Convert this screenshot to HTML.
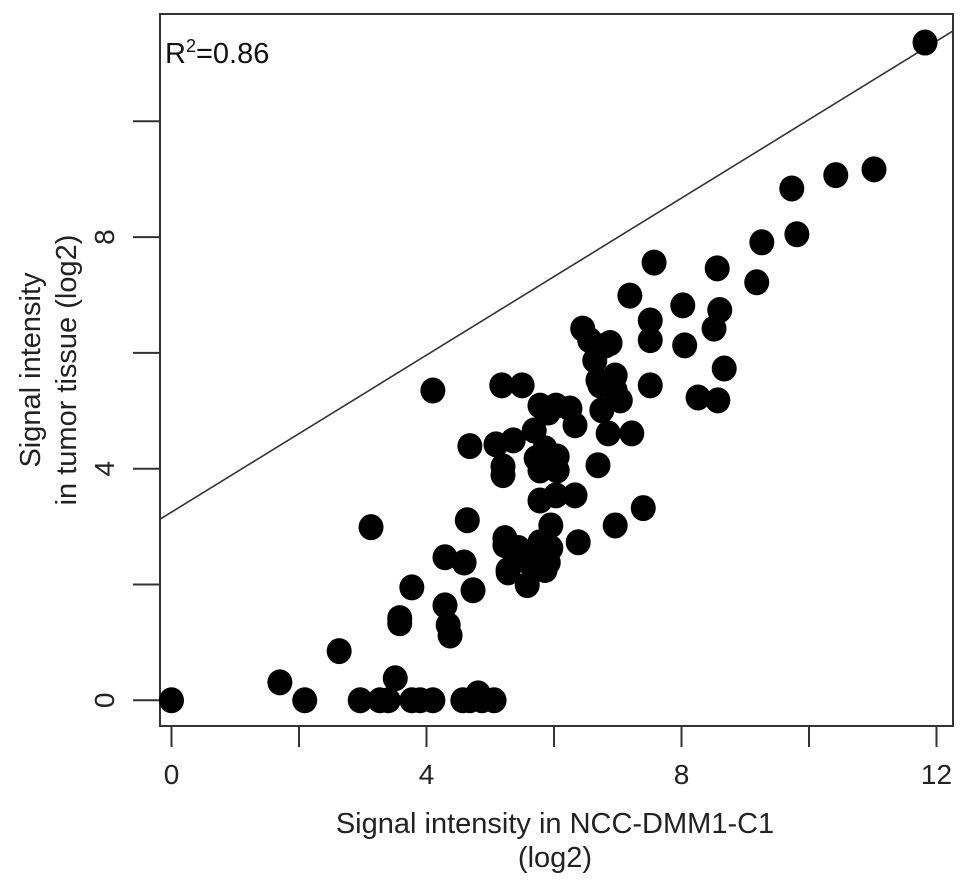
<!DOCTYPE html>
<html><head><meta charset="utf-8"><style>
html,body{margin:0;padding:0;background:#fff;}
svg{display:block;font-family:"Liberation Sans",Arial,sans-serif;}
</style></head><body>
<svg id="chart" width="969" height="890" viewBox="0 0 969 890">
<rect x="160" y="14" width="793" height="712" fill="#fff" stroke="#333" stroke-width="2"/>
<g id="marks"></g>
<g id="axes"></g>
<text x="165" y="63" font-size="29" fill="#111">R<tspan dy="-11" font-size="18">2</tspan><tspan dy="11">=0.86</tspan></text>
<text transform="translate(40,370) rotate(-90)" text-anchor="middle" font-size="29" fill="#222"><tspan x="0" dy="0">Signal intensity</tspan><tspan x="0" dy="36">in tumor tissue (log2)</tspan></text>
<text x="555" y="833" text-anchor="middle" font-size="29" fill="#222"><tspan x="555">Signal intensity in NCC-DMM1-C1</tspan><tspan x="555" dy="34">(log2)</tspan></text>
</svg>
<script>
const xTicks=[0,2,4,6,8,10,12];
const xTickLabels=["0","","4","","8","","12"];
const yTicks=[0,2,4,6,8,10];
const yTickLabels=["0","","4","","8",""];
const xValues=[0,1.70,2.09,2.63,3.13,2.96,3.27,3.40,3.51,3.77,3.90,4.10,4.10,3.58,3.77,3.58,4.29,4.29,4.37,4.34,4.57,4.68,4.81,4.87,5.06,4.64,4.68,4.59,4.73,5.09,5.23,5.23,5.20,5.20,5.28,5.36,5.44,5.50,5.18,5.28,5.58,5.61,5.78,5.86,5.91,5.69,5.72,5.78,5.78,5.78,5.86,5.91,5.95,6.03,6.05,6.03,6.05,5.95,6.25,6.33,6.38,6.33,6.45,6.56,6.64,6.69,6.72,6.81,6.88,6.96,6.85,6.69,6.75,6.96,7.04,6.96,7.19,7.22,7.40,7.51,7.51,7.51,7.57,8.02,8.05,8.26,8.57,8.51,8.56,8.60,8.67,9.18,9.26,9.73,9.81,10.42,11.02,11.82];
const yValues=[0,0.31,0,0.85,2.99,0,0,0,0.38,0,0,0,5.35,1.33,1.95,1.42,2.47,1.64,1.12,1.30,0,0,0.12,0,0,3.11,4.39,2.38,1.90,4.42,2.80,2.68,3.89,4.04,2.25,4.49,2.63,5.44,5.44,2.21,1.99,2.38,2.73,2.25,2.38,4.66,4.18,3.97,3.45,5.09,4.35,4.97,3.02,5.09,3.97,3.54,4.21,2.63,5.04,4.75,2.73,3.54,6.42,6.22,5.87,5.53,5.44,6.13,6.17,5.61,4.61,4.06,5.01,3.02,5.18,5.35,6.99,4.61,3.32,6.56,6.22,5.44,7.56,6.82,6.13,5.23,5.18,6.42,7.46,6.74,5.73,7.22,7.91,8.84,8.05,9.07,9.17,11.36];
const fitSlope=0.678, fitIntercept=3.25;

const X0=171.5, XS=63.75, Y0=700.3, YS=57.9;
const sx=v=>X0+v*XS, sy=v=>Y0-v*YS;
const NS="http://www.w3.org/2000/svg";
const marks=document.getElementById('marks'), axes=document.getElementById('axes');

const xa=(160-X0)/XS, xb=(953-X0)/XS;
let ya=fitIntercept+fitSlope*xa, yb=fitIntercept+fitSlope*xb;
let x2=xb, y2=yb;
const yTop=(Y0-14)/YS;
if(yb>yTop){x2=(yTop-fitIntercept)/fitSlope;y2=yTop;}
const ln=document.createElementNS(NS,'line');
ln.setAttribute('x1',sx(xa));ln.setAttribute('y1',sy(ya));
ln.setAttribute('x2',sx(x2));ln.setAttribute('y2',sy(y2));
ln.setAttribute('stroke','#333');ln.setAttribute('stroke-width','1.6');


marks.appendChild(ln);

for(let i=0;i<xValues.length;i++){
  const c=document.createElementNS(NS,'ellipse');
  c.setAttribute('cx',sx(xValues[i]));c.setAttribute('cy',sy(yValues[i]));
  c.setAttribute('rx',12.5);c.setAttribute('ry',13);c.setAttribute('fill','#000');
  
  
  marks.appendChild(c);
}

xTicks.forEach((t,i)=>{
  const l=document.createElementNS(NS,'line');
  l.setAttribute('x1',sx(t));l.setAttribute('x2',sx(t));l.setAttribute('y1',727);l.setAttribute('y2',747);
  l.setAttribute('stroke','#333');l.setAttribute('stroke-width','2');
  
  
  axes.appendChild(l);
  if(xTickLabels[i]){
    const tx=document.createElementNS(NS,'text');
    tx.setAttribute('x',sx(t));tx.setAttribute('y',784);tx.setAttribute('text-anchor','middle');
    tx.setAttribute('font-size','28');tx.setAttribute('fill','#222');
    tx.textContent=xTickLabels[i];
    
    
    axes.appendChild(tx);
  }
});
yTicks.forEach((t,i)=>{
  const l=document.createElementNS(NS,'line');
  l.setAttribute('x1',133);l.setAttribute('x2',159);l.setAttribute('y1',sy(t));l.setAttribute('y2',sy(t));
  l.setAttribute('stroke','#333');l.setAttribute('stroke-width','2');
  
  
  axes.appendChild(l);
  if(yTickLabels[i]){
    const tx=document.createElementNS(NS,'text');
    tx.setAttribute('transform','translate(114,'+sy(t)+') rotate(-90)');
    tx.setAttribute('text-anchor','middle');
    tx.setAttribute('font-size','28');tx.setAttribute('fill','#222');
    tx.textContent=yTickLabels[i];
    
    
    axes.appendChild(tx);
  }
});
</script>
</body></html>
